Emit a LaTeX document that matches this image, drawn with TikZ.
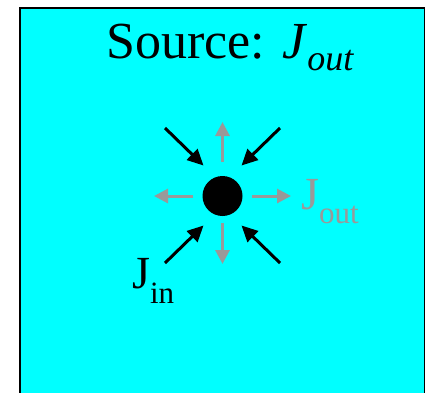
\documentclass[tikz,border=0pt]{standalone}
\usepackage{fontspec}
\setmainfont{Liberation Serif}
\usetikzlibrary{arrows.meta}
\definecolor{bgcyan}{HTML}{00FFFF}
\definecolor{flowgray}{HTML}{999999}
\begin{document}
\begin{tikzpicture}[x=1pt,y=-1pt,
  inarrow/.style={draw=black,line width=3pt,-{Triangle[length=16pt,width=15pt]}},
  outarrow/.style={draw=flowgray,line width=3pt,-{Triangle[length=14pt,width=14pt]}},
  lbl/.style={inner sep=0pt,anchor=base west}]
\useasboundingbox (0,0) rectangle (425,392);
\begin{scope}
\clip (0,0) rectangle (425,392);
\draw[fill=bgcyan,line width=2pt] (20,8) rectangle (425,400);
\end{scope}
\node[lbl] (title) at (106,58) {\fontsize{52}{52}\selectfont Source: \textit{J}\raisebox{-12pt}{\fontsize{36}{36}\selectfont\textit{out}}};
\node[circle,fill=black,minimum size=40pt,inner sep=0pt] (src) at (222.5,196) {};
% outward gray arrows
\coordinate (ou) at (222.5,122);
\coordinate (od) at (222.5,264);
\coordinate (ol) at (154,196);
\coordinate (or) at (291,196);
\draw[outarrow] (222.5,162) -- (ou);
\draw[outarrow] (222.5,223) -- (od);
\draw[outarrow] (193,196) -- (ol);
\draw[outarrow] (252,196) -- (or);
% inward black arrows
\coordinate (a1) at (165,128);
\coordinate (a2) at (280,128);
\coordinate (a3) at (165,263);
\coordinate (a4) at (280,263);
\draw[inarrow] (a1) -- (203.5,165.5);
\draw[inarrow] (a2) -- (241.5,165.5);
\draw[inarrow] (a3) -- (203.5,225.5);
\draw[inarrow] (a4) -- (241.5,225.5);
% labels
\node[lbl,text=flowgray] (jout) at (301,209) {\fontsize{46}{46}\selectfont J\raisebox{-14pt}{\fontsize{31}{31}\selectfont out}};
\node[lbl] (jin) at (132,288) {\fontsize{46}{46}\selectfont J\raisebox{-15pt}{\fontsize{31}{31}\selectfont in}};
\end{tikzpicture}
\end{document}
